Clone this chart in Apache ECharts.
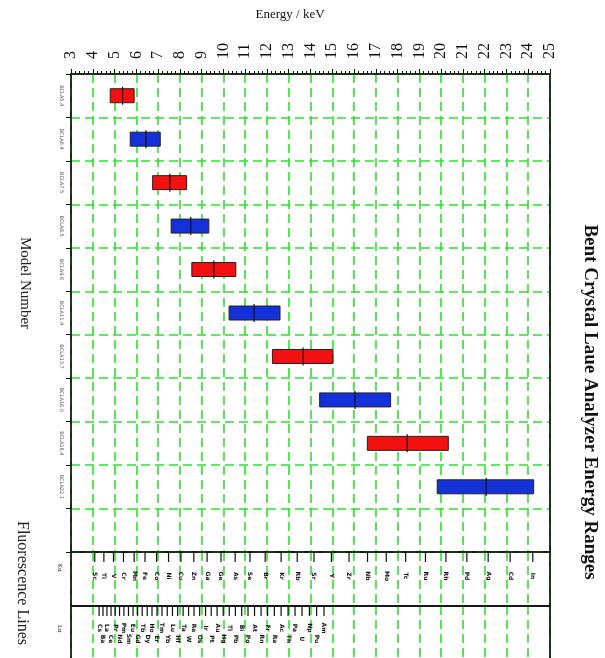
<!DOCTYPE html>
<html><head><meta charset="utf-8">
<script src="https://cdn.jsdelivr.net/npm/echarts@6/dist/echarts.min.js"></script>
<style>html,body{margin:0;padding:0;background:#fff}#c{width:605px;height:658px}</style>
</head><body><div id="c"></div>
<script>
// Analyzer models (top to bottom) and energy ranges in keV
const models = ['BCLA5.4','BCLA6.4','BCLA7.5','BCLA8.5','BCLA9.6','BCLA11.4','BCLA13.7','BCLA16.0','BCLA18.4','BCLA22.1'];
const rangeLow = [4.8, 5.72, 6.75, 7.6, 8.55, 10.26, 12.25, 14.42, 16.61, 19.82];
const rangeHigh = [5.9, 7.1, 8.31, 9.33, 10.57, 12.6, 15.03, 17.68, 20.33, 24.25];
const rangeCenter = [5.37, 6.44, 7.54, 8.5, 9.56, 11.41, 13.66, 16.04, 18.44, 22.07];
const barColors = ['#f21010', '#1430d8'];

// Fluorescence lines
const kElements = ['Sc','Ti','V','Cr','Mn','Fe','Co','Ni','Cu','Zn','Ga','Ge','As','Se','Br','Kr','Rb','Sr','Y','Zr','Nb','Mo','Tc','Ru','Rh','Pd','Ag','Cd','In'];
const kEnergies = [4.09,4.51,4.95,5.41,5.90,6.40,6.93,7.48,8.05,8.64,9.25,9.89,10.54,11.22,11.92,12.65,13.39,14.16,14.96,15.77,16.62,17.48,18.37,19.28,20.22,21.18,22.16,23.17,24.21];
const lElements = ['Cs','Ba','La','Ce','Pr','Nd','Pm','Sm','Eu','Gd','Tb','Dy','Ho','Er','Tm','Yb','Lu','Hf','Ta','W','Re','Os','Ir','Pt','Au','Hg','Tl','Pb','Bi','Po','At','Rn','Fr','Ra','Ac','Th','Pa','U','Np','Pu','Am'];
const lEnergies = [4.29,4.47,4.65,4.84,5.03,5.23,5.43,5.64,5.85,6.06,6.27,6.50,6.72,6.95,7.18,7.42,7.66,7.90,8.15,8.40,8.65,8.91,9.18,9.44,9.71,9.99,10.27,10.55,10.84,11.13,11.43,11.73,12.03,12.34,12.65,12.97,13.29,13.61,13.95,14.28,14.62];

const energyMin = 3, energyMax = 25, energyStep = 1;

const chart = echarts.init(document.getElementById('c'), null, {renderer: 'canvas'});
const serif = 'Liberation Serif, Times New Roman, serif';
const green = '#2fe02f';
const gridLine = {show: true, lineStyle: {color: green, type: [9, 5], width: 1.6}};
const gridBase = {left: 71, width: 479, show: true, borderColor: '#222', borderWidth: 1.5, containLabel: false, outerBoundsMode: 'none'};

function xAx(i, labels) {
  return {
    gridIndex: i, type: 'value', min: energyMin, max: energyMax, interval: energyStep, position: 'top',
    axisLine: {show: true, onZero: false, lineStyle: {color: '#111', width: 1.5}},
    axisTick: {show: labels, length: 5, lineStyle: {color: '#111'}},
    minorTick: {show: labels, splitNumber: 5, length: 3, lineStyle: {color: '#111'}},
    axisLabel: {show: labels, rotate: -90, fontFamily: serif, fontSize: 16, color: '#111', margin: 15},
    splitLine: gridLine
  };
}
function yVal(i, pos) {
  return {gridIndex: i, type: 'value', min: 0, max: 1, position: pos,
    axisLine: {show: true, onZero: false, lineStyle: {color: '#111', width: 1.5}},
    axisTick: {show: false}, axisLabel: {show: false}, splitLine: {show: false}};
}

function lineRender(names, staggered, labelOffset) {
  return function (params, api) {
    const top = api.coord([api.value(0), 1]);
    const idx = params.dataIndex;
    const off = staggered ? (idx % 2 === 0 ? labelOffset[0] : labelOffset[1]) : labelOffset[0];
    return {type: 'group', children: [
      {type: 'line', shape: {x1: top[0], y1: top[1], x2: top[0], y2: top[1] + 10}, style: {stroke: '#111', lineWidth: 1.2}},
      {type: 'text', x: top[0], y: top[1] + off, rotation: -Math.PI / 2,
        style: {text: names[idx], fontSize: 6, fontWeight: 'bold', fontFamily: 'DejaVu Sans', fill: '#111',
          align: 'center', verticalAlign: 'middle', textAlign: 'center', textVerticalAlign: 'middle'}}
    ]};
  };
}

const option = {
  backgroundColor: '#fff',
  animation: false,
  grid: [
    Object.assign({top: 74, height: 478}, gridBase),
    Object.assign({top: 552, height: 54}, gridBase),
    Object.assign({top: 606, height: 90}, gridBase)
  ],
  xAxis: [xAx(0, true), xAx(1, false), xAx(2, false)],
  yAxis: [
    {gridIndex: 0, type: 'category', data: models.concat(['']), inverse: true, boundaryGap: true,
      axisLine: {show: true, lineStyle: {color: '#111', width: 1.5}},
      axisTick: {show: true, length: 5, lineStyle: {color: '#111'}},
      axisLabel: {rotate: -90, fontSize: 5, color: '#555', margin: 7, fontFamily: 'DejaVu Sans'},
      splitLine: gridLine},
    yVal(1, 'left'), yVal(2, 'left'),
    yVal(0, 'right'), yVal(1, 'right'), yVal(2, 'right')
  ],
  series: [
    {type: 'custom', xAxisIndex: 0, yAxisIndex: 0,
      data: models.map((m, i) => [i, rangeLow[i], rangeHigh[i], rangeCenter[i]]),
      encode: {x: [1, 2, 3], y: 0},
      renderItem: function (params, api) {
        const ci = api.value(0);
        const a = api.coord([api.value(1), ci]);
        const b = api.coord([api.value(2), ci]);
        const c = api.coord([api.value(3), ci]);
        const h = 14;
        return {type: 'group', children: [
          {type: 'rect', shape: {x: a[0], y: a[1] - h / 2, width: b[0] - a[0], height: h},
            style: {fill: barColors[params.dataIndex % 2], stroke: '#222', lineWidth: 1}},
          {type: 'line', shape: {x1: c[0], y1: c[1] - 9, x2: c[0], y2: c[1] + 9}, style: {stroke: '#111', lineWidth: 1.2}}
        ]};
      }, z: 5},
    {type: 'custom', xAxisIndex: 1, yAxisIndex: 1,
      data: kEnergies.map((e) => [e]),
      encode: {x: 0},
      renderItem: lineRender(kElements, false, [24]), z: 5},
    {type: 'custom', xAxisIndex: 2, yAxisIndex: 2,
      data: lEnergies.map((e) => [e]),
      encode: {x: 0},
      renderItem: lineRender(lElements, true, [22, 33]), z: 5}
  ],
  graphic: [
    {type: 'text', x: 290, y: 15, style: {text: 'Energy / keV', font: '13px ' + serif, fill: '#111', align: 'center', verticalAlign: 'middle', textAlign: 'center', textVerticalAlign: 'middle'}},
    {type: 'text', x: 590, y: 402, rotation: -Math.PI / 2, style: {text: 'Bent Crystal Laue Analyzer Energy Ranges', font: 'bold 19px ' + serif, fill: '#111', align: 'center', verticalAlign: 'middle', textAlign: 'center', textVerticalAlign: 'middle'}},
    {type: 'text', x: 25, y: 283, rotation: -Math.PI / 2, style: {text: 'Model Number', font: '15px ' + serif, fill: '#222', align: 'center', verticalAlign: 'middle', textAlign: 'center', textVerticalAlign: 'middle'}},
    {type: 'text', x: 22, y: 583, rotation: -Math.PI / 2, style: {text: 'Fluorescence Lines', font: '16px ' + serif, fill: '#222', align: 'center', verticalAlign: 'middle', textAlign: 'center', textVerticalAlign: 'middle'}},
    {type: 'text', x: 60, y: 568, rotation: -Math.PI / 2, style: {text: 'Kα', font: '6px DejaVu Sans', fill: '#444', align: 'center', verticalAlign: 'middle', textAlign: 'center', textVerticalAlign: 'middle'}},
    {type: 'text', x: 60, y: 629, rotation: -Math.PI / 2, style: {text: 'Lα', font: '6px DejaVu Sans', fill: '#444', align: 'center', verticalAlign: 'middle', textAlign: 'center', textVerticalAlign: 'middle'}}
  ]
};
chart.setOption(option);
</script>
</body></html>
